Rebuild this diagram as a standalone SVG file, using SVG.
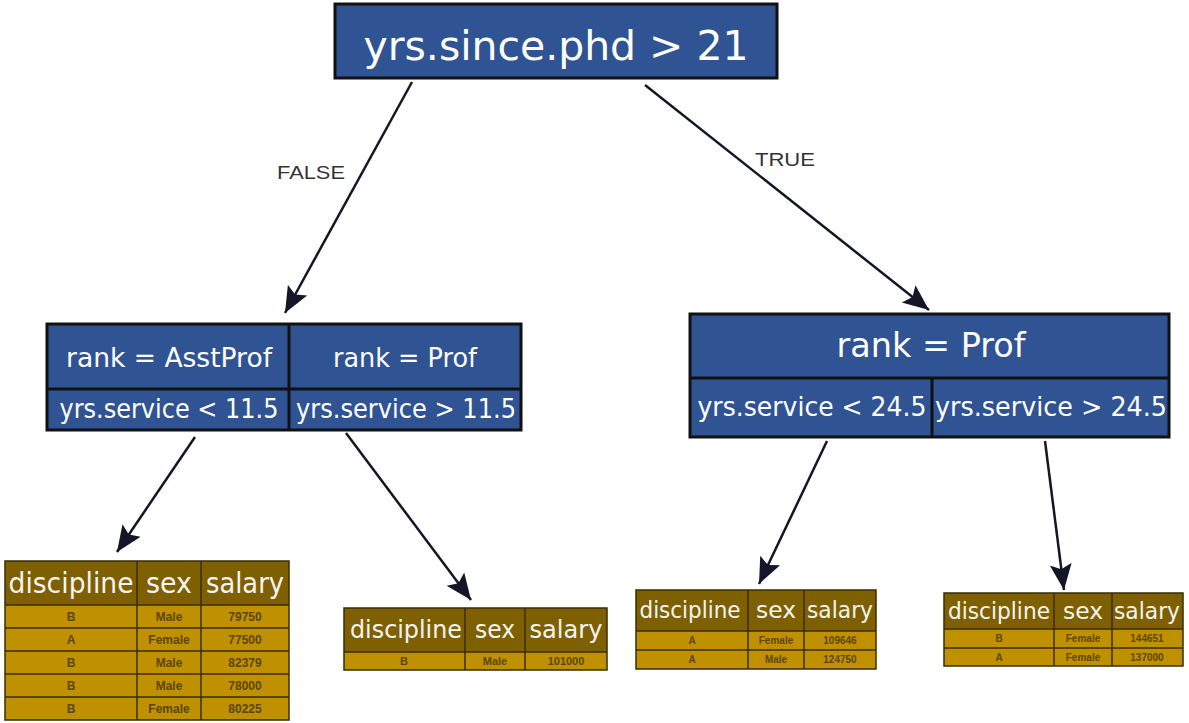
<svg xmlns="http://www.w3.org/2000/svg" width="1189" height="723" viewBox="0 0 1189 723">
<defs>
<marker id="arr" markerUnits="userSpaceOnUse" viewBox="0 0 28 24" markerWidth="28" markerHeight="24" refX="26" refY="12" orient="auto">
<path d="M0,1 L26,12 L0,23 L5,12 z" fill="#141628"/>
</marker>
<style>
.blue{fill:#2F5393;stroke:#111;stroke-width:3}
.div{stroke:#111;stroke-width:3}
.nt{font-family:"DejaVu Sans",sans-serif;fill:#fff;text-anchor:middle}
.hd{fill:#7F6000}
.dt{fill:#BF9000}
.gl{stroke:#3a2c00;stroke-width:1.5;fill:none}
.ht{font-family:"DejaVu Sans",sans-serif;fill:#f4f4f4;text-anchor:middle}
.dx{font-family:"Liberation Sans",sans-serif;fill:#5c4600;text-anchor:middle;font-weight:bold}
.cn{stroke:#141628;stroke-width:2.5;fill:none;marker-end:url(#arr)}
.lb{font-family:"Liberation Sans",sans-serif;font-size:19px;fill:#333;text-anchor:middle}
</style>
</defs>
<rect width="1189" height="723" fill="#fff"/>
<g id="connectors">
<line class="cn" x1="412" y1="82" x2="285" y2="313"/>
<line class="cn" x1="645" y1="85" x2="929" y2="310"/>
<line class="cn" x1="195" y1="437" x2="117" y2="552"/>
<line class="cn" x1="346" y1="433" x2="471" y2="600"/>
<line class="cn" x1="827" y1="441" x2="759" y2="584"/>
<line class="cn" x1="1045" y1="441" x2="1064" y2="590"/>
<text class="lb" x="311" y="179" textLength="68" lengthAdjust="spacingAndGlyphs">FALSE</text>
<text class="lb" x="785" y="166" textLength="60" lengthAdjust="spacingAndGlyphs">TRUE</text>
</g>
<g id="root">
<rect class="blue" x="335" y="4" width="442" height="74"/>
<text class="nt" x="556" y="60" font-size="40" textLength="385" lengthAdjust="spacingAndGlyphs">yrs.since.phd &gt; 21</text>
</g>
<g id="left">
<rect class="blue" x="47" y="324" width="474" height="106"/>
<line class="div" x1="47" y1="389" x2="521" y2="389"/>
<line class="div" x1="289" y1="324" x2="289" y2="430"/>
<text class="nt" x="169" y="367" font-size="26" textLength="206" lengthAdjust="spacingAndGlyphs">rank = AsstProf</text>
<text class="nt" x="405" y="367" font-size="26" textLength="144" lengthAdjust="spacingAndGlyphs">rank = Prof</text>
<text class="nt" x="169" y="418" font-size="26" textLength="219" lengthAdjust="spacingAndGlyphs">yrs.service &lt; 11.5</text>
<text class="nt" x="406" y="418" font-size="26" textLength="220" lengthAdjust="spacingAndGlyphs">yrs.service &gt; 11.5</text>
</g>
<g id="right">
<rect class="blue" x="690" y="314" width="479" height="123"/>
<line class="div" x1="690" y1="378" x2="1169" y2="378"/>
<line class="div" x1="932" y1="378" x2="932" y2="437"/>
<text class="nt" x="931" y="357" font-size="34" textLength="189" lengthAdjust="spacingAndGlyphs">rank = Prof</text>
<text class="nt" x="812" y="416" font-size="26" textLength="229" lengthAdjust="spacingAndGlyphs">yrs.service &lt; 24.5</text>
<text class="nt" x="1051" y="416" font-size="26" textLength="232" lengthAdjust="spacingAndGlyphs">yrs.service &gt; 24.5</text>
</g>
<g id="table1">
<rect class="hd" x="5" y="561" width="284" height="44"/>
<rect class="dt" x="5" y="605" width="284" height="115"/>
<rect class="gl" x="5" y="561" width="284" height="159"/>
<path class="gl" d="M5,605H289M5,628H289M5,651H289M5,674H289M5,697H289M137,561V720M201,561V720"/>
<text class="ht" x="71" y="593" font-size="28" textLength="125" lengthAdjust="spacingAndGlyphs">discipline</text>
<text class="ht" x="169" y="593" font-size="28" textLength="46" lengthAdjust="spacingAndGlyphs">sex</text>
<text class="ht" x="245" y="593" font-size="28" textLength="78" lengthAdjust="spacingAndGlyphs">salary</text>
<g class="dx" font-size="12">
<text x="71" y="621">B</text><text x="169" y="621">Male</text><text x="245" y="621">79750</text>
<text x="71" y="644">A</text><text x="169" y="644">Female</text><text x="245" y="644">77500</text>
<text x="71" y="667">B</text><text x="169" y="667">Male</text><text x="245" y="667">82379</text>
<text x="71" y="690">B</text><text x="169" y="690">Male</text><text x="245" y="690">78000</text>
<text x="71" y="713">B</text><text x="169" y="713">Female</text><text x="245" y="713">80225</text>
</g>
</g>
<g id="table2">
<rect class="hd" x="344" y="608" width="263" height="44"/>
<rect class="dt" x="344" y="652" width="263" height="18"/>
<rect class="gl" x="344" y="608" width="263" height="62"/>
<path class="gl" d="M344,652H607M465,608V670M525,608V670"/>
<text class="ht" x="406" y="638" font-size="25" textLength="112" lengthAdjust="spacingAndGlyphs">discipline</text>
<text class="ht" x="495" y="638" font-size="25" textLength="40" lengthAdjust="spacingAndGlyphs">sex</text>
<text class="ht" x="566" y="638" font-size="25" textLength="73" lengthAdjust="spacingAndGlyphs">salary</text>
<g class="dx" font-size="11">
<text x="404" y="665">B</text><text x="495" y="665">Male</text><text x="566" y="665">101000</text>
</g>
</g>
<g id="table3">
<rect class="hd" x="636" y="590" width="240" height="41"/>
<rect class="dt" x="636" y="631" width="240" height="38"/>
<rect class="gl" x="636" y="590" width="240" height="79"/>
<path class="gl" d="M636,631H876M636,650H876M748,590V669M804,590V669"/>
<text class="ht" x="690" y="618" font-size="23" textLength="101" lengthAdjust="spacingAndGlyphs">discipline</text>
<text class="ht" x="776" y="618" font-size="23" textLength="40" lengthAdjust="spacingAndGlyphs">sex</text>
<text class="ht" x="840" y="618" font-size="23" textLength="66" lengthAdjust="spacingAndGlyphs">salary</text>
<g class="dx" font-size="10">
<text x="692" y="644">A</text><text x="776" y="644">Female</text><text x="840" y="644">109646</text>
<text x="692" y="663">A</text><text x="776" y="663">Male</text><text x="840" y="663">124750</text>
</g>
</g>
<g id="table4">
<rect class="hd" x="944" y="593" width="239" height="36"/>
<rect class="dt" x="944" y="629" width="239" height="37"/>
<rect class="gl" x="944" y="593" width="239" height="73"/>
<path class="gl" d="M944,629H1183M944,648H1183M1054,593V666M1112,593V666"/>
<text class="ht" x="999" y="619" font-size="23" textLength="102" lengthAdjust="spacingAndGlyphs">discipline</text>
<text class="ht" x="1083" y="619" font-size="23" textLength="40" lengthAdjust="spacingAndGlyphs">sex</text>
<text class="ht" x="1147" y="619" font-size="23" textLength="66" lengthAdjust="spacingAndGlyphs">salary</text>
<g class="dx" font-size="10">
<text x="999" y="642">B</text><text x="1083" y="642">Female</text><text x="1147" y="642">144651</text>
<text x="999" y="661">A</text><text x="1083" y="661">Female</text><text x="1147" y="661">137000</text>
</g>
</g>
</svg>
